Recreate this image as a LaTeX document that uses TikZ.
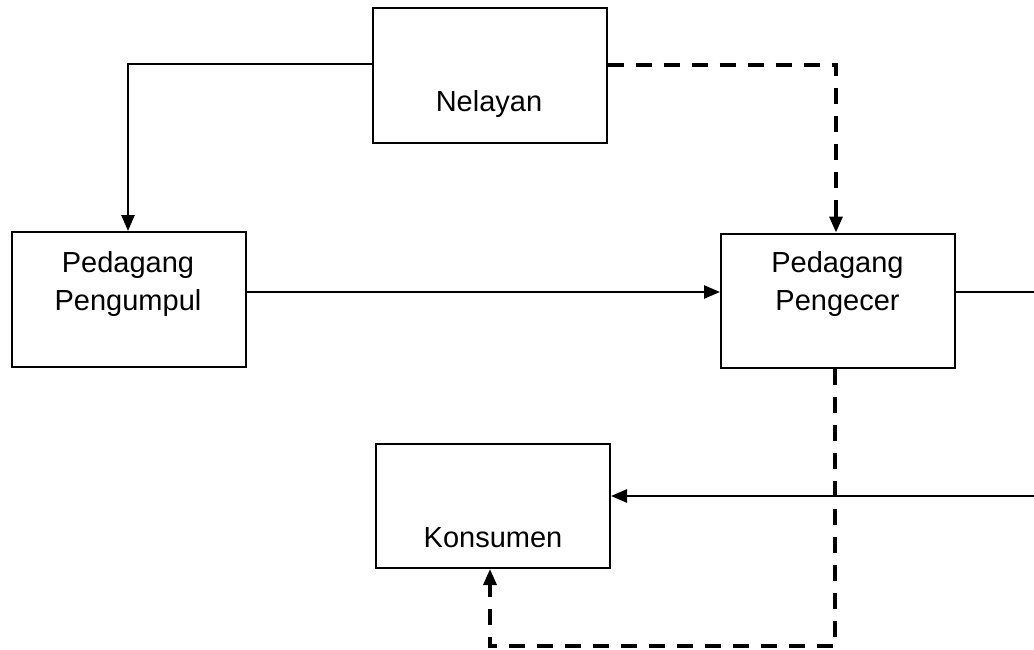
\documentclass[tikz,border=0pt]{standalone}
\usepackage{fontspec}
\setmainfont{Liberation Sans}
\usetikzlibrary{arrows.meta}
\begin{document}
\begin{tikzpicture}[x=1pt,y=-1pt,
  box/.style={draw=black,line width=2pt,rectangle,minimum width=234pt,inner sep=0pt},
  lbl/.style={anchor=base,font=\fontsize{29}{34}\selectfont,inner sep=0pt},
  arr/.style={line width=2.5pt,-{Triangle[length=16pt,width=13pt]}},
  dsh/.style={line width=3.4pt,dash pattern=on 16pt off 12pt,-{Triangle[length=16pt,width=13pt]}}]
\useasboundingbox (0,0) rectangle (1034,650);
\node[box,minimum height=135pt] (nel) at (489.5,75.5) {};
\node[box,minimum height=135pt] (pgm) at (129,299.5) {};
\node[box,minimum height=134pt] (pgc) at (838,300.5) {};
\node[box,minimum height=124pt] (kon) at (493,506) {};
\node[lbl] (nelt) at (489,112) {Nelayan};
\node[lbl] (pgmt1) at (128,272) {Pedagang};
\node[lbl] (pgmt2) at (128,310) {Pengumpul};
\node[lbl] (pgct1) at (837.5,272) {Pedagang};
\node[lbl] (pgct2) at (837.5,310) {Pengecer};
\node[lbl] (kont) at (493,547) {Konsumen};
\coordinate (a1) at (128,64);
\coordinate (b1) at (836,65);
\coordinate (c1) at (0,292);
\coordinate (r1) at (1050,292);
\coordinate (r2) at (1050,496);
\coordinate (d1) at (835,646);
\coordinate (d2) at (490,646);
\draw[arr] (nel.west |- a1) -- (a1) -- (pgm.north -| a1);
\draw[dsh] (nel.east |- b1) -- (b1) -- (pgc.north -| b1);
\draw[arr] (pgm.east |- c1) -- (pgc.west |- c1);
\draw[arr] (pgc.east |- r1) -- (r1) -- (r2) -- (kon.east |- r2);
\draw[dsh] (pgc.south -| d1) -- (d1) -- (d2) -- (kon.south -| d2);
\end{tikzpicture}
\end{document}
